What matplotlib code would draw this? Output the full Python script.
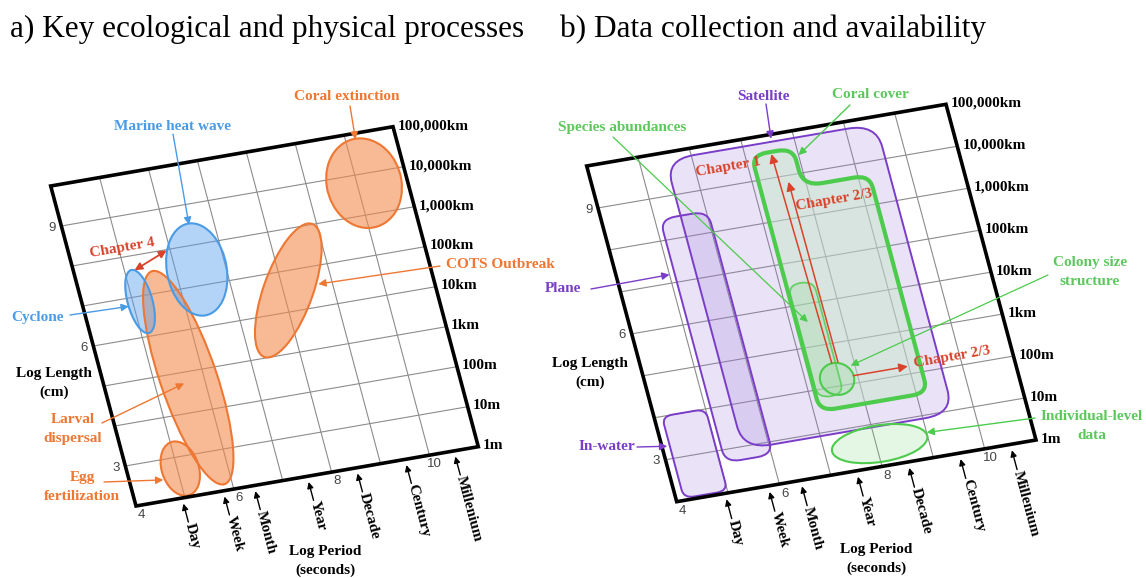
import numpy as np
import matplotlib.pyplot as plt
from matplotlib.patches import Ellipse, PathPatch, Polygon
from matplotlib.path import Path
from matplotlib.transforms import Affine2D

# Axes: log10 period (s) from 4 to 11, log10 length (cm) from 2 to 10
period_ticks = [4.94, 5.78, 6.41, 7.50, 8.50, 9.50, 10.50]
period_labels = ['Day', 'Week', 'Month', 'Year', 'Decade', 'Century', 'Millenium']
length_ticks = [2, 3, 4, 5, 6, 7, 8, 9, 10]
length_labels = ['1m', '10m', '100m', '1km', '10km', '100km', '1,000km', '10,000km', '100,000km']

# a) processes: centre, extent and tilt in (log period, log length)
proc_names = ['Larval\ndispersal', 'Egg\nfertilization', 'COTS Outbreak', 'Coral extinction',
              'Cyclone', 'Marine heat wave']
proc_kind = ['eco', 'eco', 'eco', 'eco', 'phys', 'phys']
proc_period = [5.69, 5.06, 8.10, 10.14, 5.145, 6.42]
proc_length = [4.85, 2.71, 6.52, 8.77, 6.87, 7.40]
proc_dperiod = [1.15, 0.75, 1.0, 1.5, 0.5, 1.2]
proc_dlength = [5.4, 1.35, 3.4, 2.2, 1.58, 2.27]
proc_angle = [3, 0, -28, -5, 0, -5]
proc_target = [(5.58, 4.73), (4.67, 2.51), (8.72, 6.55), (10.2, 9.85), (4.9, 6.8), (6.5, 8.5)]

# b) platforms: period range, length range
plat_names = ['Satellite', 'Plane', 'In-water']
plat_period = [(5.5, 9.6), (5.1, 6.03), (4.15, 5.0)]
plat_length = [(2.93, 9.83), (2.7, 8.5), (2.05, 4.0)]
plat_target = [(7.57, 9.9), (5.0, 7.2), (4.1, 3.3)]

# b) data types
cover_period = [7.12, 9.22, 9.22, 7.93, 7.93, 7.12]
cover_length = [3.5, 3.5, 8.69, 8.69, 9.6, 9.6]
species_period = (7.15, 7.65)
species_length = (3.8, 6.5)
colony_centre = (7.6, 4.17)
colony_size = (0.65, 0.75)
indiv_centre = (8.07, 2.53)
indiv_size = (1.85, 0.85)

ORANGE, ORANGE_F = '#ee7733', '#f28c4e'
BLUE, BLUE_F = '#4a9be6', '#5aa0ee'
RED = '#d8432b'
PURPLE, PURPLE_F = '#7a3dc8', '#9973d9'
GREEN, GREEN_F = '#4ccb4c', '#7cd67c'
GREEN_T = '#5cc85c'
SERIF = 'Liberation Serif'

W, H = 1146, 578
fig = plt.figure(figsize=(W / 100, H / 100), dpi=100)
ax = fig.add_axes([0, 0, 1, 1])
ax.set_xlim(0, W)
ax.set_ylim(H, 0)
ax.axis('off')


def panel_transform(bl, br, tl):
    bl, br, tl = map(np.asarray, (bl, br, tl))
    ex = (br - bl) / 7.0
    ey = (tl - bl) / 8.0
    off = bl - 4 * ex - 2 * ey
    return Affine2D(np.array([[ex[0], ey[0], off[0]],
                              [ex[1], ey[1], off[1]],
                              [0, 0, 1]]))


def screen_angle(aff, dx, dy):
    v = aff.transform([dx, dy]) - aff.transform([0, 0])
    return np.degrees(np.arctan2(-v[1], v[0]))


def rounded(px, py, r):
    pts = np.column_stack([px, py]).astype(float)
    n = len(pts)
    rr = np.broadcast_to(r, n)
    verts, codes = [], []
    for i in range(n):
        p0, p1, p2 = pts[i - 1], pts[i], pts[(i + 1) % n]
        u = (p0 - p1) / np.hypot(*(p0 - p1))
        w = (p2 - p1) / np.hypot(*(p2 - p1))
        verts += [p1 + u * rr[i], p1, p1 + w * rr[i]]
        codes += [Path.LINETO, Path.CURVE3, Path.CURVE3]
    codes[0] = Path.MOVETO
    verts.append(verts[0])
    codes.append(Path.CLOSEPOLY)
    return Path(verts, codes)


def label(x, y, s, color, size=11, **kw):
    # multi-line labels are written line by line, 19 px apart
    lines = s.split('\n')
    for k, line in enumerate(lines):
        yk = y + (k - (len(lines) - 1) / 2) * 19
        ax.text(x, yk, line, color=color, fontsize=size, fontweight='bold', family=SERIF,
                ha='center', va='center', zorder=8, **kw)


def pointer(tail, target, T, color, lw=1.0, style='-|>'):
    ax.annotate('', xy=target, xycoords=T, xytext=tail, textcoords='data',
                arrowprops=dict(arrowstyle=style, color=color, lw=lw, mutation_scale=11,
                                shrinkA=0, shrinkB=0), zorder=7)


def draw_frame(aff, ylab_xy, xlab_xy):
    T = aff + ax.transData
    for x in range(5, 11):
        ax.plot([x, x], [2, 10], color='#8c8c8c', lw=0.8, transform=T, zorder=1)
    for y in range(3, 10):
        ax.plot([4, 11], [y, y], color='#8c8c8c', lw=0.8, transform=T, zorder=1)
    ax.add_patch(Polygon([(4, 2), (11, 2), (11, 10), (4, 10)], closed=True, fill=False,
                         ec='black', lw=2.6, joinstyle='miter', transform=T, zorder=6))
    for y, s in zip(length_ticks, length_labels):
        ax.text(11.1, y, s, transform=T, ha='left', va='center', fontsize=11,
                fontweight='bold', family=SERIF, zorder=8)
    for y in (3, 6, 9):
        ax.text(3.82, y, str(y), transform=T, ha='center', va='center', fontsize=9.5,
                family='Liberation Sans', color='#444444', zorder=8)
    for x in (4, 6, 8, 10):
        ax.text(x + 0.05, 1.76, str(x), transform=T, ha='center', va='center', fontsize=9.5,
                family='Liberation Sans', color='#444444', zorder=8)
    rot = screen_angle(aff, 0, -1)
    for p, s in zip(period_ticks, period_labels):
        ax.annotate('', xy=(p, 1.86), xycoords=T, xytext=(p, 1.4), textcoords=T,
                    arrowprops=dict(arrowstyle='-|>', color='black', lw=1, mutation_scale=9,
                                    shrinkA=0, shrinkB=0), zorder=7)
        ax.text(p, 1.37, s, transform=T, rotation=rot, rotation_mode='anchor',
                ha='left', va='center', fontsize=11, fontweight='bold', family=SERIF, zorder=8)
    label(*ylab_xy, 'Log Length\n(cm)', 'black')
    label(*xlab_xy, 'Log Period\n(seconds)', 'black')
    return T


# ---------------- a) Key ecological and physical processes
aff_a = panel_transform((136, 506), (478.3, 446.7), (50.7, 186))
Ta = draw_frame(aff_a, (54, 383), (325, 561))
rot_a = screen_angle(aff_a, 1, 0)

for i in range(len(proc_names)):
    ec, fc, a = (ORANGE, ORANGE_F, 0.6) if proc_kind[i] == 'eco' else (BLUE, BLUE_F, 0.45)
    ax.add_patch(Ellipse((proc_period[i], proc_length[i]), proc_dperiod[i], proc_dlength[i],
                         angle=proc_angle[i], fc=fc, alpha=a, lw=0, transform=Ta, zorder=2))
    ax.add_patch(Ellipse((proc_period[i], proc_length[i]), proc_dperiod[i], proc_dlength[i],
                         angle=proc_angle[i], fill=False, ec=ec, lw=1.5, transform=Ta, zorder=3))

proc_text_xy = [(73, 429), (82, 487), (500, 264), (347, 97), (37, 317), (173, 127)]
proc_tail_xy = [(102, 423), (104, 482), (440, 266), (350, 106), (70, 315), (173, 134)]
for i, s in enumerate(proc_names):
    c = ORANGE if proc_kind[i] == 'eco' else BLUE
    label(*proc_text_xy[i], s, c)
    pointer(proc_tail_xy[i], proc_target[i], Ta, c)

ax.annotate('', xy=(5.93, 7.98), xycoords=Ta, xytext=(5.2, 7.64), textcoords=Ta,
            arrowprops=dict(arrowstyle='<|-|>', color=RED, lw=1.3, mutation_scale=11,
                            shrinkA=0, shrinkB=0), zorder=7)
label(122, 248, 'Chapter 4', RED, rotation=rot_a)

# ---------------- b) Data collection and availability
aff_b = panel_transform((676.7, 501.7), (1036, 440), (586.7, 166))
Tb = draw_frame(aff_b, (590, 373), (876, 559))
rot_b = screen_angle(aff_b, 1, 0)

plat_radius = [0.55, 0.3, 0.2]
for i in range(len(plat_names)):
    x0, x1 = plat_period[i]
    y0, y1 = plat_length[i]
    path = rounded([x0, x1, x1, x0], [y0, y0, y1, y1], plat_radius[i])
    ax.add_patch(PathPatch(path, fc=PURPLE_F, alpha=0.2, lw=0, transform=Tb, zorder=2))
    ax.add_patch(PathPatch(path, fill=False, ec=PURPLE, lw=1.4, transform=Tb, zorder=3))

cover = rounded(cover_period, cover_length, [0.3, 0.3, 0.3, 0.38, 0.3, 0.3])
ax.add_patch(PathPatch(cover, fc='#c8e6c9', alpha=0.5, lw=0, transform=Tb, zorder=3))
ax.add_patch(PathPatch(cover, fill=False, ec=GREEN, lw=3, transform=Tb, zorder=4))

x0, x1 = species_period
y0, y1 = species_length
sp = rounded([x0, x1, x1, x0], [y0, y0, y1, y1], 0.25)
ax.add_patch(PathPatch(sp, fc=GREEN_F, alpha=0.2, ec='none', transform=Tb, zorder=4))
ax.add_patch(PathPatch(sp, fill=False, ec=GREEN, lw=1.3, alpha=0.8, transform=Tb, zorder=4))
for (cx, cy), (w, h) in [(colony_centre, colony_size), (indiv_centre, indiv_size)]:
    ax.add_patch(Ellipse((cx, cy), w, h, fc=GREEN_F, alpha=0.2, lw=0, transform=Tb, zorder=4))
    ax.add_patch(Ellipse((cx, cy), w, h, fill=False, ec=GREEN, lw=1.5, transform=Tb, zorder=4))

# chapter arrows
for (p0, l0), (p1, l1) in [((7.58, 4.55), (7.5, 9.55)), ((7.7, 4.55), (7.68, 8.85)),
                           ((7.92, 4.18), (8.98, 4.18))]:
    ax.annotate('', xy=(p1, l1), xycoords=Tb, xytext=(p0, l0), textcoords=Tb,
                arrowprops=dict(arrowstyle='-|>', color=RED, lw=1.1, mutation_scale=13,
                                shrinkA=0, shrinkB=0), zorder=5)
label(728, 167, 'Chapter 1', RED, rotation=rot_b)
label(834, 200, 'Chapter 2/3', RED, rotation=rot_b)
label(952, 357, 'Chapter 2/3', RED, rotation=rot_b)

plat_text_xy = [(763, 96), (563, 289), (607, 447)]
plat_tail_xy = [(766, 104), (591, 289), (637, 447)]
for i, s in enumerate(plat_names):
    label(*plat_text_xy[i], s, PURPLE)
    pointer(plat_tail_xy[i], plat_target[i], Tb, PURPLE)

label(870, 95, 'Coral cover', GREEN_T)
pointer((850, 105), (8.0, 9.42), Tb, GREEN)
label(622, 127, 'Species abundances', GREEN_T)
pointer((613, 137), (7.34, 5.58), Tb, GREEN, lw=0.9)
label(1090, 272, 'Colony size\nstructure', GREEN_T)
pointer((1048, 275), (7.92, 4.42), Tb, GREEN, lw=0.9)
label(1092, 426, 'Individual-level\ndata', GREEN_T)
pointer((1035, 418), (9.0, 2.6), Tb, GREEN)

ax.text(10, 37, 'a) Key ecological and physical processes', fontsize=22.5, family=SERIF,
        ha='left', va='baseline')
ax.text(560, 37, 'b) Data collection and availability', fontsize=22.5, family=SERIF,
        ha='left', va='baseline')

plt.savefig('out.png', dpi=100)
